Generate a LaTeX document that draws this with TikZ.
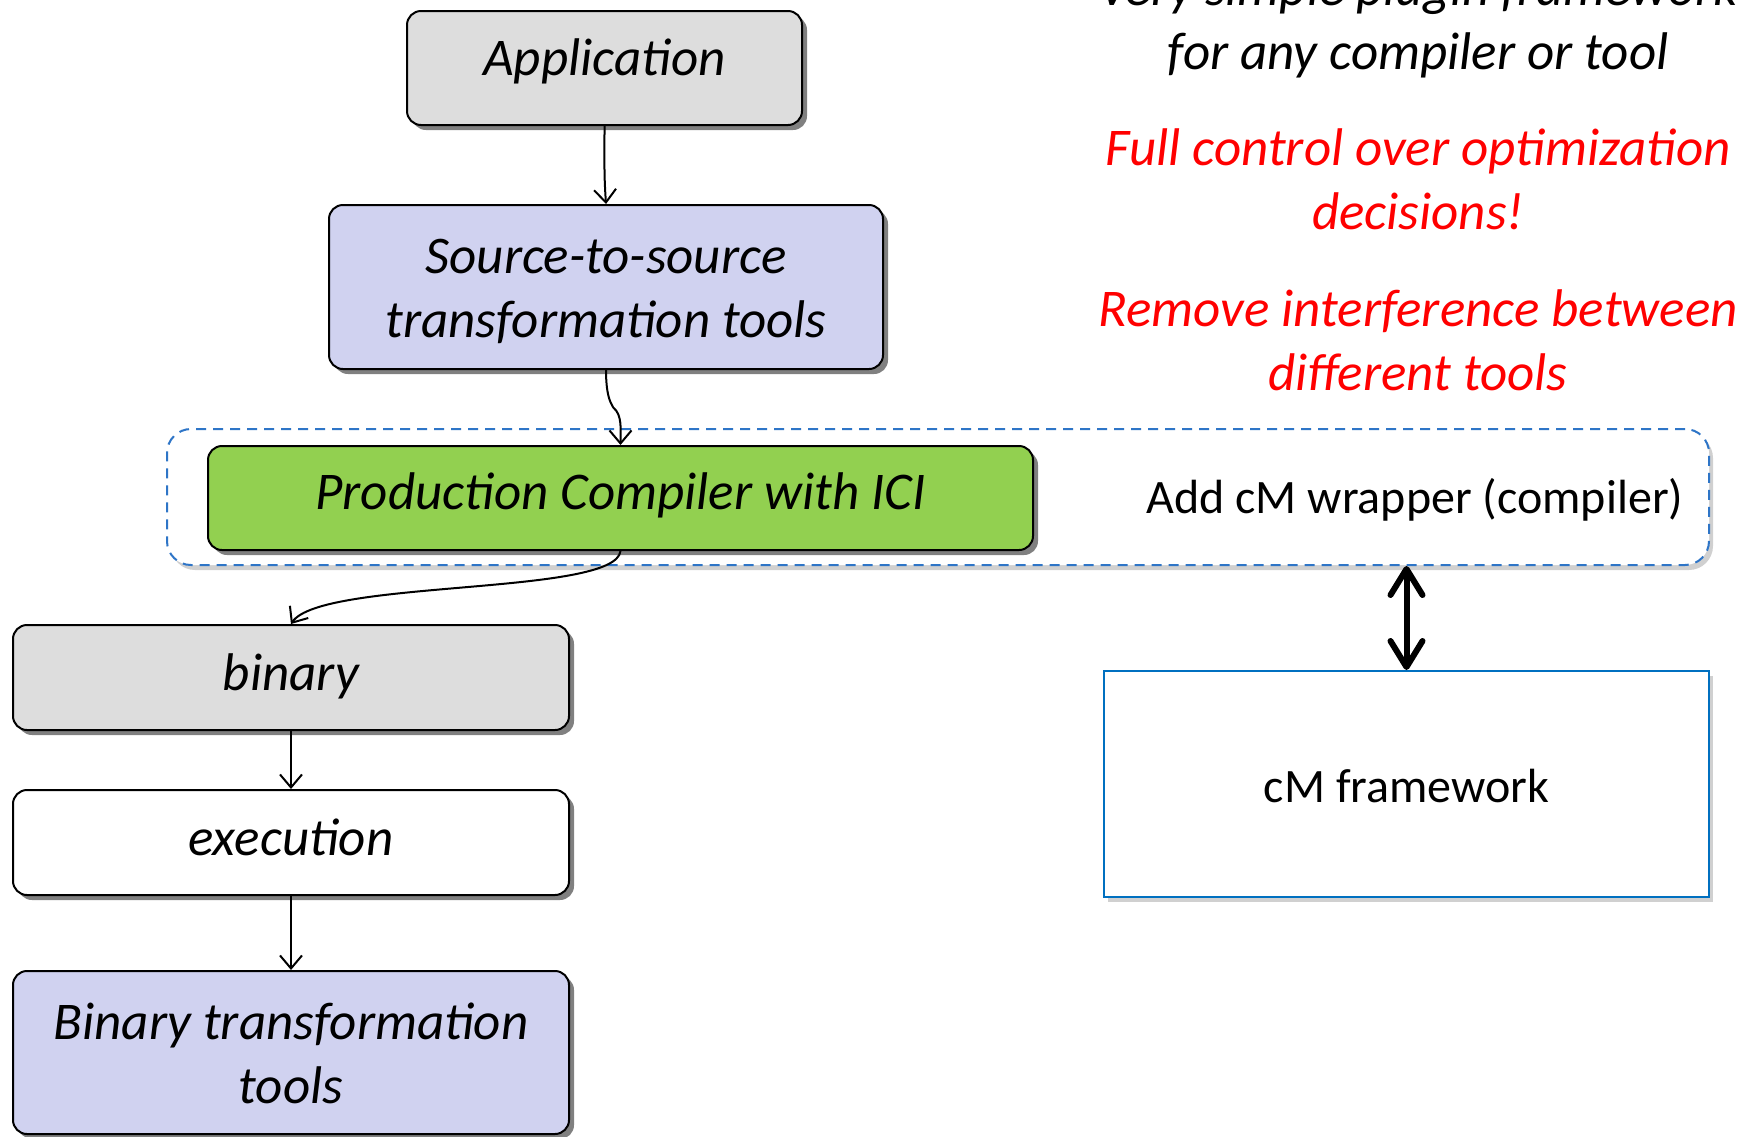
\documentclass[tikz,border=0pt]{standalone}
\usepackage{fontspec}
\setmainfont{Carlito}
\usetikzlibrary{arrows.meta,shadows,calc}
\definecolor{boxgray}{RGB}{221,221,221}
\definecolor{lav}{RGB}{208,210,240}
\definecolor{grn}{RGB}{146,208,80}
\definecolor{cmblue}{RGB}{0,112,192}
\definecolor{dashblue}{RGB}{46,117,199}
\newcommand\mytopstrut{\rule{0pt}{51pt}}
\newcommand\mybotstrut{\rule[-14pt]{0pt}{14pt}}
\begin{document}
\begin{tikzpicture}[x=1pt,y=-1pt,
  box/.style={draw=black, line width=2pt, rounded corners=14pt, inner sep=0pt, align=center,
    font=\fontsize{53}{64}\selectfont\itshape,
    drop shadow={shadow xshift=5pt, shadow yshift=-5pt, fill=black!50, opacity=1}},
  oneline/.style={text height=38pt, text depth=12pt},
  softshadow/.style={drop shadow={shadow xshift=4pt, shadow yshift=-5pt, fill=black!30, opacity=0.6}},
  conn/.style={draw=black, line width=2pt, -{Straight Barb[length=13pt,width=22pt]}},
  bigtext/.style={font=\fontsize{53}{64}\selectfont\itshape, anchor=base, inner sep=0pt},
  redtext/.style={bigtext, text=red},
  plaintext/.style={font=\fontsize{48}{58}\selectfont, inner sep=0pt}
]
\useasboundingbox (0,0) rectangle (1748,1136);
\fill[white] (0,0) rectangle (1748,1136);

% dashed wrapper
\node[draw=dashblue, line width=2pt, dash pattern=on 10pt off 7pt, rounded corners=24pt,
  fill=white, minimum width=1542pt, minimum height=136pt, inner sep=0pt, softshadow] (wrap) at (938,497) {};

\node[box, text height=32pt, text depth=18pt, fill=boxgray, minimum width=395pt, minimum height=114pt] (app) at (604.5,68) {Application};
\node[box, fill=lav, minimum width=554pt, minimum height=164pt] (src) at (606,287) {\mytopstrut Source-to-source\\transformation tools\mybotstrut};
\node[box, text height=36pt, text depth=14pt, fill=grn, minimum width=825pt, minimum height=104pt] (prod) at (620.5,498) {Production Compiler with ICI};
\node[box, oneline, fill=boxgray, minimum width=556pt, minimum height=105pt] (bin) at (291,677.5) {binary};
\node[box, oneline, fill=white, minimum width=556pt, minimum height=105pt] (exec) at (291,842.5) {execution};
\node[box, fill=lav, minimum width=556pt, minimum height=163pt] (btt) at (291,1052.5) {\mytopstrut Binary transformation\\tools\mybotstrut};

\node[draw=cmblue, line width=2pt, fill=white, minimum width=605pt, minimum height=226pt,
  inner sep=0pt, softshadow, plaintext, text height=41pt, text depth=5pt] (cm) at (1406.5,784) {cM framework};

\node[plaintext, anchor=base] (wraptext) at (1415,513) {Add cM wrapper (compiler)};

% top-right texts
\node[bigtext] (t1) at (1418,5) {Very simple plugin framework};
\node[bigtext] (t2) at (1418,69) {for any compiler or tool};
\node[redtext] (r1) at (1418,165) {Full control over optimization};
\node[redtext] (r2) at (1418,229) {decisions!};
\node[redtext] (r3) at (1418,326) {Remove interference between};
\node[redtext] (r4) at (1418,390) {different tools};

% connectors
\draw[conn] (app.south) .. controls ($(app.south)+(0,40)$) and ($(src.north)+(-2,-30)$) .. (src.north);
\draw[conn] (src.south) .. controls ($(src.south)+(0,30)$) and ($(prod.north)+(-8,-40)$) .. ($(src.south)!0.5!(prod.north)$)
  .. controls ($(prod.north)+(2,-30)$) and ($(prod.north)+(0,-15)$) .. (prod.north);
\draw[conn] (prod.south) .. controls ($(prod.south)+(-5,45)$) and ($(bin.north)+(30,-45)$) .. (bin.north);
\draw[conn] (bin.south) -- (exec.north);
\draw[conn] (exec.south) -- (btt.north);
\draw[line width=6pt, {Straight Barb[length=26pt,width=32pt,round]}-{Straight Barb[length=26pt,width=32pt,round]}]
  (cm.north |- wrap.south) -- (cm.north);
\end{tikzpicture}
\end{document}
